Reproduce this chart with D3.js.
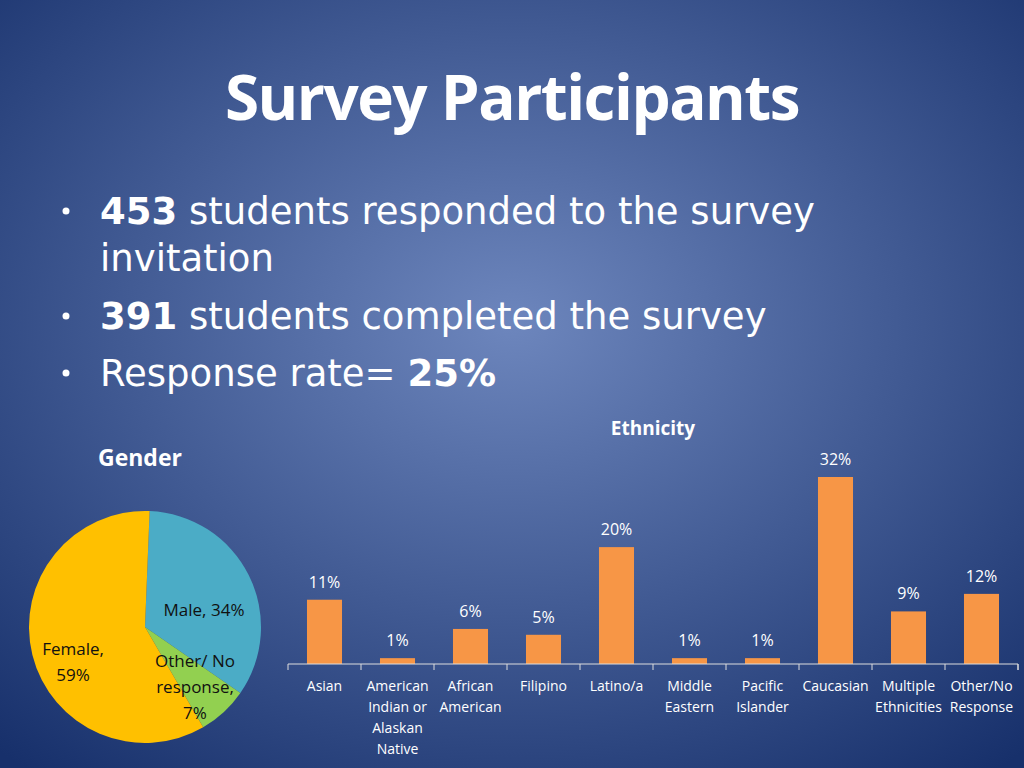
<!DOCTYPE html>
<html><head><meta charset="utf-8">
<script src="https://cdn.jsdelivr.net/npm/d3@7"></script>
<style>body{margin:0;overflow:hidden}</style>
</head><body>
<svg id="c" width="1024" height="768"></svg>
<script>
// Data
const genderLabels = ['Male', 'Other/ No response', 'Female'];
const genderValues = [34, 7, 59];
const genderColors = ['#4bacc6', '#92d050', '#ffc000'];
const ethnicities = ['Asian', 'American Indian or Alaskan Native', 'African American', 'Filipino', 'Latino/a', 'Middle Eastern', 'Pacific Islander', 'Caucasian', 'Multiple Ethnicities', 'Other/No Response'];
const ethnicityLines = [['Asian'], ['American', 'Indian or', 'Alaskan', 'Native'], ['African', 'American'], ['Filipino'], ['Latino/a'], ['Middle', 'Eastern'], ['Pacific', 'Islander'], ['Caucasian'], ['Multiple', 'Ethnicities'], ['Other/No', 'Response']];
const ethnicityValues = [11, 1, 6, 5, 20, 1, 1, 32, 9, 12];

const svg = d3.select('#c');
const defs = svg.append('defs');
const grad = defs.append('radialGradient').attr('id', 'bg')
    .attr('cx', 0.5).attr('cy', 0.42).attr('r', 0.75);
grad.append('stop').attr('offset', '0%').attr('stop-color', '#6d86bd');
grad.append('stop').attr('offset', '100%').attr('stop-color', '#17306b');
svg.append('rect').attr('width', 1024).attr('height', 768).attr('fill', 'url(#bg)');

// Title and bullets
svg.append('text').attr('x', 512).attr('y', 120).attr('text-anchor', 'middle')
    .attr('font-family', 'Open Sans, sans-serif').attr('font-weight', 'bold')
    .attr('font-size', 62).attr('fill', '#fff').attr('letter-spacing', -1.5).text('Survey Participants');

const bullets = [
    { y: 224, bold: '453', rest: ' students responded to the survey' },
    { y: 271, bold: '', rest: 'invitation', noDot: true },
    { y: 329, bold: '391', rest: ' students completed the survey' },
    { y: 386, bold: '', rest: 'Response rate= ', tail: '25%' }
];
bullets.forEach(b => {
    if (!b.noDot) svg.append('circle').attr('cx', 66).attr('cy', b.y - 13).attr('r', 3.5).attr('fill', '#fff');
    const t = svg.append('text').attr('x', 100).attr('y', b.y).attr('font-family', 'DejaVu Sans, sans-serif')
        .attr('font-size', 37).attr('fill', '#fff');
    if (b.bold) t.append('tspan').attr('font-weight', 'bold').text(b.bold);
    t.append('tspan').text(b.rest);
    if (b.tail) t.append('tspan').attr('font-weight', 'bold').text(b.tail);
});

// Pie
svg.append('text').attr('x', 98).attr('y', 466).attr('font-family', 'Open Sans, sans-serif')
    .attr('font-weight', 'bold').attr('font-size', 23).attr('fill', '#fff').text('Gender');
const pieG = svg.append('g').attr('transform', 'translate(145,627)');
const pie = d3.pie().sort(null).startAngle(0.04).endAngle(0.04 + 2 * Math.PI)(genderValues);
const arc = d3.arc().innerRadius(0).outerRadius(116);
pieG.selectAll('path').data(pie).enter().append('path')
    .attr('d', arc).attr('fill', (d, i) => genderColors[i]);
const pieLabels = [
    { lines: ['Male, 34%'], x: 59, y: -11 },
    { lines: ['Other/ No', 'response,', '7%'], x: 50, y: 40 },
    { lines: ['Female,', '59%'], x: -72, y: 28 }
];
pieLabels.forEach(l => {
    const t = pieG.append('text').attr('text-anchor', 'middle').attr('font-family', 'Open Sans, sans-serif')
        .attr('font-size', 17).attr('fill', '#111');
    l.lines.forEach((s, i) => t.append('tspan').attr('x', l.x).attr('y', l.y + i * 26).text(s));
});

// Bar chart
const x = d3.scaleBand().domain(ethnicities).range([288, 1018]).paddingInner(0.52).paddingOuter(0.26);
const y = d3.scaleLinear().domain([0, 32]).range([664, 477]);
svg.append('text').attr('x', 653).attr('y', 435).attr('text-anchor', 'middle')
    .attr('font-family', 'Open Sans, sans-serif').attr('font-weight', 'bold')
    .attr('font-size', 19).attr('fill', '#fff').text('Ethnicity');
svg.selectAll('.bar').data(ethnicityValues).enter().append('rect')
    .attr('x', (d, i) => x(ethnicities[i])).attr('y', d => y(d))
    .attr('width', x.bandwidth()).attr('height', d => 664 - y(d)).attr('fill', '#f79646');
svg.selectAll('.val').data(ethnicityValues).enter().append('text')
    .attr('x', (d, i) => x(ethnicities[i]) + x.bandwidth() / 2)
    .attr('y', d => y(d) - 12).attr('text-anchor', 'middle')
    .attr('font-family', 'Open Sans, sans-serif').attr('font-size', 16).attr('fill', '#fff')
    .text(d => d + '%');
const ax = svg.append('g').attr('transform', 'translate(0,664)')
    .call(d3.axisBottom(x).tickSize(6).tickFormat(''));
ax.select('.domain').attr('stroke', '#ddd').attr('d', 'M288,6V0H1018V6');
ax.selectAll('.tick line').attr('stroke', '#ddd')
    .attr('transform', `translate(${x.step() / 2},0)`);
ax.selectAll('.tick').each(function(d, i) {
    const t = d3.select(this).append('text').attr('fill', '#fff').attr('font-family', 'Open Sans, sans-serif')
        .attr('font-size', 14).attr('text-anchor', 'middle');
    ethnicityLines[i].forEach((s, j) => t.append('tspan').attr('x', 0).attr('y', 27 + j * 21).text(s));
});
</script>
</body></html>
